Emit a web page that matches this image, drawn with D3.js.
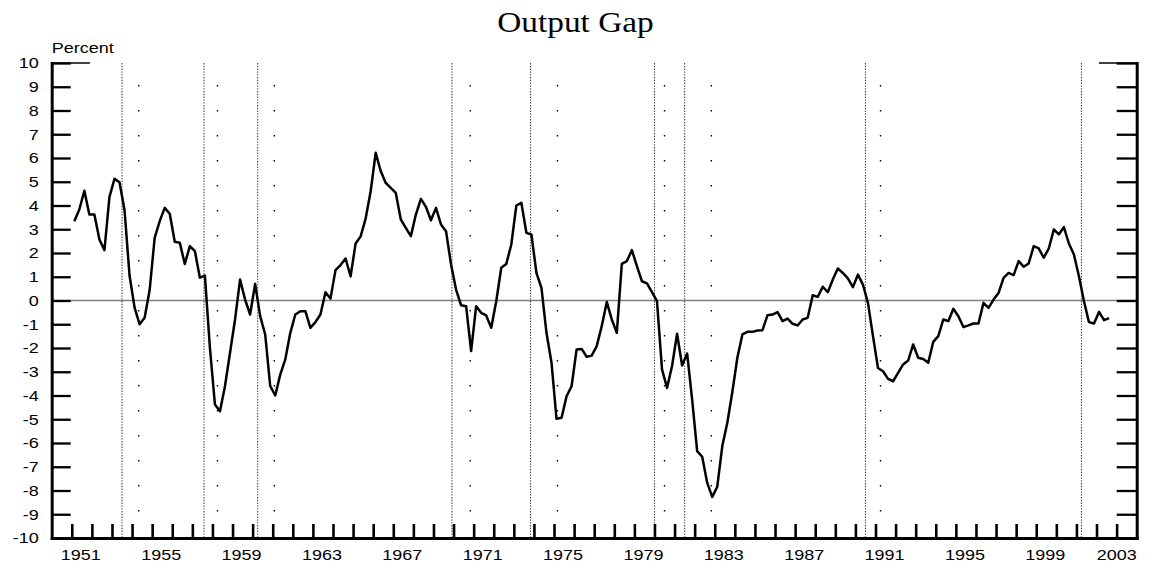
<!DOCTYPE html>
<html>
<head>
<meta charset="utf-8">
<script src="https://cdn.jsdelivr.net/npm/d3@7"></script>
<style>
  html, body { margin: 0; padding: 0; background: #fff; }
  svg { display: block; }
</style>
</head>
<body>
<svg id="chart" width="1151" height="571"></svg>
<script>
// ---------------- data ----------------
const title = "Output Gap";
const yAxisLabel = "Percent";
const startYear = 1951; // first observation: 1951Q1 (quarterly)
const outputGap = [
  3.34, 3.83, 4.62, 3.62,      // 1951
  3.62, 2.57, 2.12, 4.36,      // 1952
  5.12, 4.98, 3.80, 1.05,      // 1953
  -0.30, -1.00, -0.73, 0.44,   // 1954
  2.64, 3.34, 3.90, 3.65,      // 1955
  2.47, 2.43, 1.54, 2.29,      // 1956
  2.08, 0.96, 1.05, -2.00,     // 1957
  -4.38, -4.66, -3.60, -2.20,  // 1958
  -0.80, 0.88, 0.04, -0.59,    // 1959
  0.70, -0.66, -1.43, -3.60,   // 1960
  -4.00, -3.12, -2.48, -1.36,  // 1961
  -0.59, -0.45, -0.45, -1.15,  // 1962
  -0.91, -0.59, 0.35, 0.08,    // 1963
  1.28, 1.49, 1.77, 1.02,      // 1964
  2.40, 2.70, 3.45, 4.60,      // 1965
  6.22, 5.45, 4.95, 4.74,      // 1966
  4.53, 3.41, 3.06, 2.71,      // 1967
  3.62, 4.28, 3.94, 3.38,      // 1968
  3.90, 3.20, 2.92, 1.52,      // 1969
  0.46, -0.20, -0.24, -2.13,   // 1970
  -0.24, -0.52, -0.63, -1.15,  // 1971
  -0.03, 1.38, 1.54, 2.36,     // 1972
  4.00, 4.11, 2.85, 2.78,      // 1973
  1.16, 0.53, -1.36, -2.62,    // 1974
  -4.98, -4.94, -4.03, -3.61,  // 1975
  -2.06, -2.04, -2.37, -2.32,  // 1976
  -1.92, -1.08, -0.06, -0.80,  // 1977
  -1.36, 1.54, 1.66, 2.12,     // 1978
  1.45, 0.81, 0.72, 0.35,      // 1979
  -0.03, -2.90, -3.68, -2.76,  // 1980
  -1.40, -2.74, -2.23, -4.17,  // 1981
  -6.34, -6.58, -7.68, -8.27,  // 1982
  -7.84, -6.13, -5.15, -3.85,  // 1983
  -2.41, -1.43, -1.32, -1.32,  // 1984
  -1.26, -1.25, -0.62, -0.59,  // 1985
  -0.49, -0.87, -0.76, -0.98,  // 1986
  -1.05, -0.80, -0.73, 0.22,   // 1987
  0.15, 0.58, 0.35, 0.88,      // 1988
  1.35, 1.16, 0.93, 0.56,      // 1989
  1.09, 0.67, -0.10, -1.50,    // 1990
  -2.84, -2.98, -3.30, -3.40,  // 1991
  -3.05, -2.69, -2.53, -1.85,  // 1992
  -2.41, -2.46, -2.62, -1.74,  // 1993
  -1.50, -0.80, -0.87, -0.35,  // 1994
  -0.66, -1.12, -1.05, -0.97,  // 1995
  -0.97, -0.10, -0.31, 0.04,   // 1996
  0.32, 0.95, 1.16, 1.07,      // 1997
  1.66, 1.42, 1.56, 2.29,      // 1998
  2.19, 1.80, 2.19, 2.99,      // 1999
  2.78, 3.09, 2.40, 1.94,      // 2000
  1.02, -0.03, -0.91, -0.97,   // 2001
  -0.48, -0.83, -0.74          // 2002
];
// business-cycle reference dates (decimal years)
const peaks   = [1953.50, 1957.58, 1960.25, 1969.92, 1973.83, 1980.00, 1981.50, 1990.50, 2001.25];
const troughs = [1954.33, 1958.25, 1961.08, 1970.83, 1975.17, 1980.50, 1982.83, 1991.25];
const yTicks = [-10,-9,-8,-7,-6,-5,-4,-3,-2,-1,0,1,2,3,4,5,6,7,8,9,10];
const yearTicks = d3.range(1951, 2004);
const yearLabels = [1951,1955,1959,1963,1967,1971,1975,1979,1983,1987,1991,1995,1999,2003];
const xDomain = [1950, 2004];
const yDomain = [-10, 10];

// ---------------- setup ----------------
const svg = d3.select("#chart");
const FONT = "'Liberation Sans', Arial, Helvetica, sans-serif";
const SX = 1.2; // horizontal stretch of the original text

const x = d3.scaleLinear().domain(xDomain).range([51.7, 1136.7]);
const y = d3.scaleLinear().domain(yDomain).range([538, 63]);

const series = outputGap.map((v, i) => ({
  t: startYear + Math.floor(i / 4) + (i % 4) / 4 + 0.125,
  v
}));

// title
svg.append("g")
  .attr("transform", `translate(575.5,32)`)
  .append("text")
  .attr("transform", "scale(1.13,1)")
  .attr("text-anchor", "middle")
  .attr("font-family", "'Liberation Serif', 'Times New Roman', serif")
  .attr("font-size", 29.5)
  .attr("fill", "#000")
  .text(title);

// y label
svg.append("g")
  .attr("transform", `translate(${x(1950)},53)`)
  .append("text")
  .attr("transform", `scale(${SX},1)`)
  .attr("font-family", FONT)
  .attr("font-size", 15)
  .text(yAxisLabel);

// zero line
svg.append("line")
  .attr("x1", x(xDomain[0])).attr("x2", x(xDomain[1]))
  .attr("y1", y(0)).attr("y2", y(0))
  .attr("stroke", "#808080").attr("stroke-width", 1.3);

// peak lines (dense dotted)
svg.append("g").selectAll("line").data(peaks).join("line")
  .attr("x1", d => x(d)).attr("x2", d => x(d))
  .attr("y1", y(10)).attr("y2", y(-10))
  .attr("stroke", "#444").attr("stroke-width", 1.1)
  .attr("stroke-dasharray", "1.4,1.4");

// trough lines (sparse dots)
svg.append("g").selectAll("line").data(troughs).join("line")
  .attr("x1", d => x(d)).attr("x2", d => x(d))
  .attr("y1", y(10) + 22).attr("y2", y(-10) - 20)
  .attr("stroke", "#000").attr("stroke-width", 1.4)
  .attr("stroke-dasharray", "1.6,23.4");

// data line
svg.append("path")
  .datum(series)
  .attr("fill", "none")
  .attr("stroke", "#000")
  .attr("stroke-width", 2.5)
  .attr("stroke-linejoin", "round")
  .attr("d", d3.line().x(d => x(d.t)).y(d => y(d.v)));

// thin top segments
svg.append("line")
  .attr("x1", x(1950)).attr("x2", x(1951.9))
  .attr("y1", y(10)).attr("y2", y(10))
  .attr("stroke", "#000").attr("stroke-width", 1.4);
svg.append("line")
  .attr("x1", x(2002.12)).attr("x2", x(2004))
  .attr("y1", y(10)).attr("y2", y(10))
  .attr("stroke", "#000").attr("stroke-width", 1.4);

// left axis
const gLeft = svg.append("g")
  .attr("transform", `translate(${x(1950)},0)`)
  .call(d3.axisLeft(y).tickValues(yTicks).tickSizeInner(-19).tickSizeOuter(0).tickFormat(d3.format("d")));
gLeft.select(".domain").attr("stroke-width", 3).attr("stroke-linecap", "square");
gLeft.selectAll(".tick line").attr("stroke-width", 2.3);
gLeft.selectAll(".tick text")
  .attr("x", null)
  .attr("transform", `translate(-13,0) scale(${SX},1)`)
  .attr("text-anchor", "end")
  .attr("font-family", FONT)
  .attr("font-size", 15)
  .attr("fill", "#000")
  .text(d => d < 0 ? "-" + Math.abs(d) : d);

// right axis
const gRight = svg.append("g")
  .attr("transform", `translate(${x(2004)},0)`)
  .call(d3.axisRight(y).tickValues(yTicks).tickSizeInner(-20).tickSizeOuter(0).tickFormat(""));
gRight.select(".domain").attr("stroke-width", 3).attr("stroke-linecap", "square");
gRight.selectAll(".tick line").attr("stroke-width", 2.3);

// bottom axis
const gBottom = svg.append("g")
  .attr("transform", `translate(0,${y(-10)})`)
  .call(d3.axisBottom(x).tickValues(yearTicks).tickSizeInner(-14).tickSizeOuter(0).tickFormat(""));
gBottom.select(".domain").attr("stroke-width", 3).attr("stroke-linecap", "square");
gBottom.selectAll(".tick line").attr("stroke-width", 2.6);

// year labels
const labG = svg.append("g");
yearLabels.forEach(yr => {
  const g = labG.append("g");
  const t = g.append("text")
    .attr("transform", `scale(${SX},1)`)
    .attr("text-anchor", "middle")
    .attr("font-family", FONT)
    .attr("font-size", 15)
    .attr("fill", "#000")
    .text(yr);
  const half = t.node().getComputedTextLength() * SX / 2;
  let cx = x(yr + 0.45);
  cx = Math.min(cx, x(xDomain[1]) - half);
  g.attr("transform", `translate(${cx},560)`);
});
</script>
</body>
</html>
